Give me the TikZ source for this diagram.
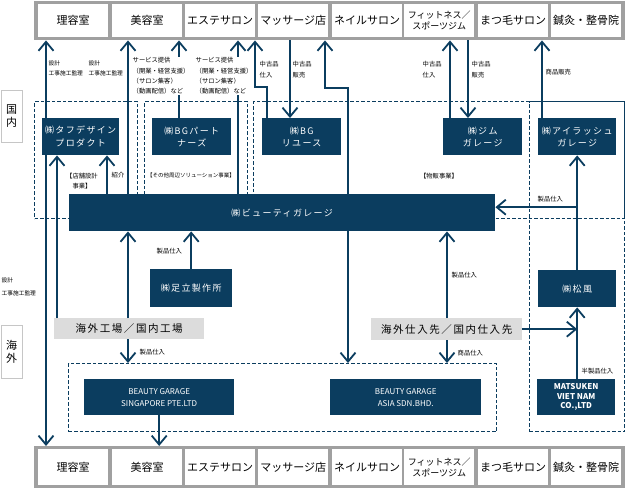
\documentclass[tikz,border=0pt]{standalone}
\usepackage{fontspec}
\setmainfont{Noto Sans CJK JP}
\newfontfamily\jpwide[LetterSpace=15]{Noto Sans CJK JP}
\usepackage{tikz}
\usetikzlibrary{arrows.meta, positioning, backgrounds}
\definecolor{bgblue}{RGB}{11,61,95}
\definecolor{rowgray}{RGB}{160,160,160}
\definecolor{taggray}{RGB}{220,220,220}

\begin{document}
\begin{tikzpicture}[x=1pt, y=-1pt,
        pxbox/.style args={#1/#2}{anchor=north west, inner sep=0pt, minimum width=#1pt, minimum height=#2pt},
        firm/.style={fill=bgblue, text=white, align=center, font=\jpwide\fontsize{9}{12.5}\selectfont},
        latin/.style={font=\fontsize{8}{12}\selectfont},
        shop/.style={fill=white, align=center},
        tag/.style={fill=taggray, font=\jpwide\fontsize{10.5}{12}\selectfont},
        zone/.style={draw=bgblue, dash pattern=on 3.5pt off 2pt, line width=1.3pt},
        note/.style={inner sep=0.5pt, align=left, font=\fontsize{6.3}{10.3}\selectfont},
        side/.style={draw=gray!45, fill=white, align=center, font=\fontsize{11}{13}\selectfont},
        arrow/.style={-{Straight Barb[length=9pt, width=15pt]}, line width=1.8pt, draw=bgblue}]
        \useasboundingbox (0,0) rectangle (625,488);

        % Zonas (lineas discontinuas)
        \node[zone, pxbox=103/117] (zshop) at (34,101) {};
        \node[zone, pxbox=103/117] (zsol) at (144,101) {};
        \node[zone, pxbox=371/117] (zsale) at (253,101) {};
        \node[zone, pxbox=95/330] (zeye) at (529,101) {};
        \node[zone, pxbox=428/68] (zsea) at (68,363) {};

        % Filas de clientes (arriba y abajo)
        \node[fill=rowgray, pxbox=591/39] (toprow) at (34,1) {};
        \node[fill=rowgray, pxbox=591/42] (botrow) at (34,446) {};
        \foreach \x/\f/\lab [count=\i] in {38/11/理容室, 112/11/美容室, 185/11/エステサロン, 258/11/マッサージ店, 332/11/ネイルサロン, 404/9/{フィットネス／\\スポーツジム}, 478/11/まつ毛サロン, 551/11/鍼灸・整骨院} {
            \node[shop, pxbox=70/33, font=\fontsize{\f}{11}\selectfont] (t\i) at (\x,4) {\lab};
            \node[shop, pxbox=70/36, font=\fontsize{\f}{11}\selectfont] (b\i) at (\x,449) {\lab};
        }

        % Etiquetas laterales
        \node[side, pxbox=21/52] (dom) at (1,90) {国\\内};
        \node[side, pxbox=21/53] (ovs) at (1,325) {海\\外};

        % Empresas del grupo
        \node[firm, pxbox=77/37] (tafu) at (42,118) {㈱タフデザイン\\プロダクト};
        \node[firm, pxbox=79/37] (bgp) at (152,118) {㈱BGパート\\ナーズ};
        \node[firm, pxbox=79/37] (reuse) at (262,118) {㈱BG\\リユース};
        \node[firm, pxbox=79/37] (gym) at (443,118) {㈱ジム\\ガレージ};
        \node[firm, pxbox=78/37] (eye) at (538,118) {㈱アイラッシュ\\ガレージ};
        \node[firm, pxbox=426/37] (bg) at (69,194) {㈱ビューティガレージ};
        \node[firm, pxbox=82/38] (adachi) at (150,269) {㈱足立製作所};
        \node[firm, pxbox=78/37] (shofu) at (538,270) {㈱松風};
        \node[firm, latin, pxbox=150/36] (sg) at (84,379) {BEAUTY GARAGE\\SINGAPORE PTE.LTD};
        \node[firm, latin, pxbox=151/36] (asia) at (330,379) {BEAUTY GARAGE\\ASIA SDN.BHD.};
        \node[firm, latin, font=\bfseries\fontsize{8}{9.5}\selectfont, pxbox=78/36] (mvn) at (537,379) {MATSUKEN\\VIET NAM\\CO.,LTD};

        % Proveedores
        \node[tag, pxbox=150/21] (fact) at (54,318) {海外工場／国内工場};
        \node[tag, pxbox=151/22] (supp) at (371,318) {海外仕入先／国内仕入先};

        % Flechas hacia la fila superior
        \draw[arrow] ([xshift=4pt]tafu.north west) -- ([xshift=4pt]tafu.north west |- toprow.south);
        \draw[arrow] ([xshift=59pt]bg.north west) -- ([xshift=59pt]bg.north west |- toprow.south);
        \draw[arrow] ([xshift=27pt]bgp.north west) -- ([xshift=27pt]bgp.north west |- toprow.south);
        \draw[arrow] ([xshift=169pt]bg.north west) -- ([xshift=169pt]bg.north west |- toprow.south);
        \draw[arrow] ([xshift=5pt]reuse.north west) -- ++(0,-31) -- ++(-12,0) coordinate (jreuse) -- (jreuse |- toprow.south);
        \draw[arrow] ([xshift=28pt]reuse.north west |- toprow.south) -- ([xshift=28pt]reuse.north west);
        \draw[arrow] ([xshift=279pt]bg.north west) -- ++(0,-106) -- ++(-23,0) coordinate (jnail) -- (jnail |- toprow.south);
        \draw[arrow] ([xshift=7pt]gym.north west) -- ([xshift=7pt]gym.north west |- toprow.south);
        \draw[arrow] ([xshift=25pt]gym.north west |- toprow.south) -- ([xshift=25pt]gym.north west);
        \draw[arrow] ([xshift=4pt]eye.north west) -- ([xshift=4pt]eye.north west |- toprow.south);

        % Flechas internas
        \draw[arrow] ([xshift=15pt]tafu.south west |- fact.north) -- ([xshift=15pt]tafu.south west);
        \draw[arrow] ([xshift=38pt]bg.north west) -- ([xshift=38pt]bg.north west |- tafu.south);
        \draw[arrow] (adachi.north) -- (adachi.north |- bg.south);
        \draw[arrow] ([xshift=74pt]fact.north west) -- ([xshift=74pt]fact.north west |- bg.south);
        \draw[arrow] ([xshift=74pt]fact.south west) -- ([xshift=74pt]fact.south west |- zsea.north);
        \draw[arrow] ([xshift=279pt]bg.south west) -- ([xshift=279pt]bg.south west |- zsea.north);
        \draw[arrow] ([xshift=76pt]supp.north west) -- ([xshift=76pt]supp.north west |- bg.south);
        \draw[arrow] ([xshift=76pt]supp.south west) -- ([xshift=76pt]supp.south west |- zsea.north);
        \draw[arrow] (shofu.north) -- (eye.south);
        \coordinate (bgin) at ([yshift=5.5pt]bg.east);
        \draw[arrow] (eye.south |- bgin) -- (bgin);
        \draw[arrow] (supp.east) -- (supp.east -| shofu.south);
        \draw[arrow] (mvn.north -| shofu.south) -- (shofu.south);

        % Flechas hacia la fila inferior
        \draw[arrow] ([xshift=4pt]tafu.south west) -- ([xshift=4pt]tafu.south west |- botrow.north);
        \draw[arrow] (sg.south) -- (sg.south |- botrow.north);

        % Anotaciones
        \node[note, anchor=north west, font=\fontsize{5.7}{10.3}\selectfont] (l1) at (48,60) {設計\\工事施工監理};
        \node[note, anchor=north west, font=\fontsize{5.7}{10.3}\selectfont] (l2) at (88,60) {設計\\工事施工監理};
        \node[note, anchor=north west, fill=white] (l3) at (132,57) {サービス提供\\（開業・経営支援）\\（サロン集客）\\（動画配信）など};
        \node[note, anchor=north west, fill=white] (l4) at (195,57) {サービス提供\\（開業・経営支援）\\（サロン集客）\\（動画配信）など};
        \node[note, anchor=north west] (l5) at (259,61) {中古品\\仕入};
        \node[note, anchor=north west] (l6) at (292,61) {中古品\\販売};
        \node[note, anchor=north west] (l7) at (422,61) {中古品\\仕入};
        \node[note, anchor=north west] (l8) at (471,61) {中古品\\販売};
        \node[note, anchor=west] (l9) at (545,72) {商品販売};
        \node[note, align=center] (l10) at (82,181) {【店舗設計\\事業】};
        \node[note, anchor=west] (l11) at (111,175) {紹介};
        \node[note, font=\fontsize{5.5}{10}\selectfont] (l12) at (191,175) {【その他周辺ソリューション事業】};
        \node[note] (l13) at (439,176) {【物販事業】};
        \node[note, anchor=west] (l14) at (537,199) {製品仕入};
        \node[note, anchor=west] (l15) at (156,251) {製品仕入};
        \node[note, anchor=north west, font=\fontsize{5.7}{13}\selectfont] (l16) at (1,277) {設計\\工事施工監理};
        \node[note, anchor=west] (l17) at (139,352) {製品仕入};
        \node[note, anchor=west] (l18) at (451,275) {製品仕入};
        \node[note, anchor=west] (l19) at (457,353) {商品仕入};
        \node[note, anchor=west] (l20) at (581,371) {半製品仕入};

    \end{tikzpicture}
\end{document}
